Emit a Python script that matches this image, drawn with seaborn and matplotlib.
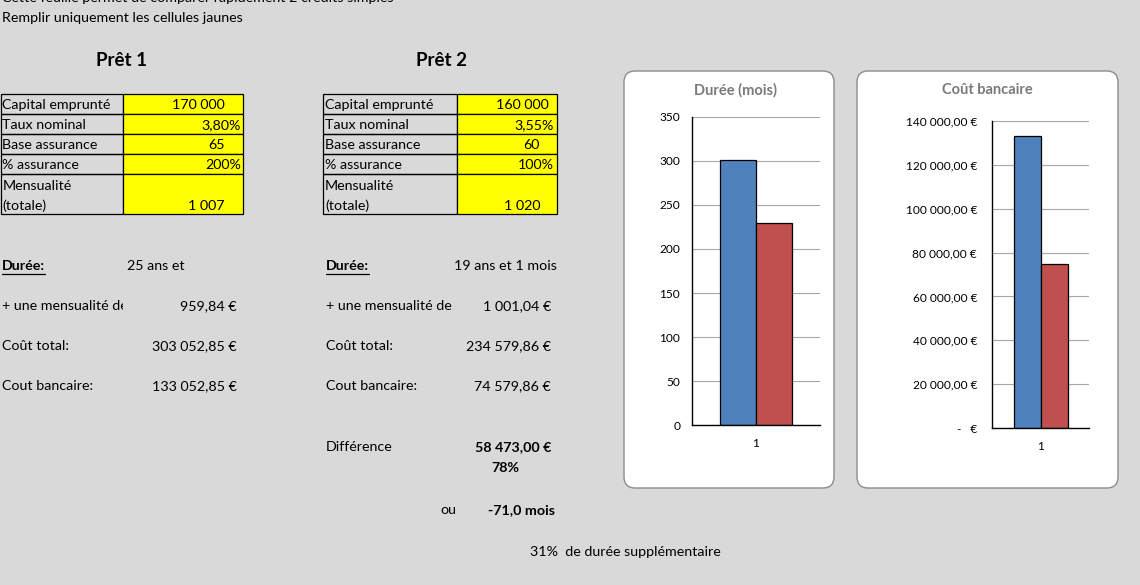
import matplotlib
matplotlib.use('Agg')
import matplotlib.pyplot as plt
import seaborn as sns
import pandas as pd
from matplotlib.patches import Rectangle, FancyBboxPatch
from matplotlib.ticker import FuncFormatter
from matplotlib.transforms import Bbox, TransformedBbox

# ---------------- data ----------------
categories = ['1']
loans = ['Prêt 1', 'Prêt 2']
duree_mois = [301, 230]
cout_bancaire = [133052.85, 74579.86]

table_labels = ['Capital emprunté', 'Taux nominal', 'Base assurance', '% assurance', 'Mensualité', '(totale)']
pret1_values = ['170 000', '3,80%', '65', '200%', '1 007']
pret2_values = ['160 000', '3,55%', '60', '100%', '1 020']

duree_text = ['25 ans et', '19 ans et 1 mois']
derniere_mensualite = ['959,84 €', '1 001,04 €']
cout_total_txt = ['303 052,85 €', '234 579,86 €']
cout_bancaire_txt = ['133 052,85 €', '74 579,86 €']
difference_txt = ['58 473,00 €', '78%']
ecart_mois_txt = '-71,0 mois'
duree_supp_txt = '31%'

# ---------------- style ----------------
sns.set_style('white')
plt.rcParams['font.family'] = ['Lato', 'DejaVu Sans']
FS = 10.3
BG = '#d9d9d9'
BLUE = '#4f81bd'
RED = '#c0504d'
YEL = '#ffff00'

W, H = 1140, 585
fig = plt.figure(figsize=(W / 100, H / 100), dpi=100, facecolor=BG)
bg = fig.add_axes([0, 0, 1, 1], zorder=0)
bg.set_xlim(0, W)
bg.set_ylim(H, 0)
bg.axis('off')
bg.set_facecolor(BG)

def txt(x, y, s, ha='left', bold=False, size=FS, color='black', **kw):
    return bg.text(x, y, s, ha=ha, va='center', fontsize=size,
                   fontweight='bold' if bold else 'normal', color=color, **kw)

# header lines
txt(2, -2, 'Cette feuille permet de comparer rapidement 2 crédits simples')
txt(2, 17.5, 'Remplir uniquement les cellules jaunes')

# tables
row_edges = [94, 114, 134, 154, 174, 214]
def draw_table(x0, xmid, x1, values, right_pos, title, title_x):
    txt(title_x, 61, title, ha='center', bold=True, size=13.5)
    for i in range(5):
        y0, y1 = row_edges[i], row_edges[i + 1]
        bg.add_patch(Rectangle((x0, y0), xmid - x0, y1 - y0, facecolor='none',
                               edgecolor='black', lw=0.9))
        bg.add_patch(Rectangle((xmid, y0), x1 - xmid, y1 - y0, facecolor=YEL,
                               edgecolor='black', lw=0.9))
    for i, lab in enumerate(table_labels[:4]):
        txt(x0 + 2, (row_edges[i] + row_edges[i + 1]) / 2 + 1, lab)
    txt(x0 + 2, 185.5, table_labels[4])
    txt(x0 + 2, 205.5, table_labels[5])
    for i, v in enumerate(values):
        yc = (row_edges[i] + row_edges[i + 1]) / 2 + 1 if i < 4 else 205.5
        txt(right_pos[i], yc, v, ha='right')

draw_table(0.5, 123, 243, pret1_values, [225, 241, 225, 241, 225], loans[0], 121)
draw_table(323, 457, 557, pret2_values, [549, 554, 540, 554, 540], loans[1], 441)

# lower block
d1 = txt(2, 266, 'Durée:', bold=True)
d2 = txt(326, 266, 'Durée:', bold=True)
txt(127, 266, duree_text[0])
txt(557, 266, duree_text[1], ha='right')

m1 = txt(2, 306, '+ une mensualité de')
m1.set_clip_box(TransformedBbox(Bbox([[0, 290], [123, 320]]), bg.transData))
m1.set_clip_on(True)
txt(326, 306, '+ une mensualité de')
txt(237, 306, derniere_mensualite[0], ha='right')
txt(551, 306, derniere_mensualite[1], ha='right')

txt(2, 346, 'Coût total:')
txt(326, 346, 'Coût total:')
txt(237, 346, cout_total_txt[0], ha='right')
txt(551, 346, cout_total_txt[1], ha='right')

txt(2, 386, 'Cout bancaire:')
txt(326, 386, 'Cout bancaire:')
txt(237, 386, cout_bancaire_txt[0], ha='right')
txt(551, 386, cout_bancaire_txt[1], ha='right')

txt(326, 447, 'Différence')
txt(551, 447, difference_txt[0], ha='right', bold=True)
txt(519, 468, difference_txt[1], ha='right', bold=True)
txt(440, 510, 'ou')
txt(555, 510, ecart_mois_txt, ha='right', bold=True)
txt(530, 552, duree_supp_txt + '  de durée supplémentaire')

# chart boxes
for (x0, x1) in [(624, 834), (857, 1118)]:
    bg.add_patch(FancyBboxPatch((x0, 71), x1 - x0, 417,
                                boxstyle='round,pad=0,rounding_size=11',
                                facecolor='white', edgecolor='#8c8c8c', lw=1))
txt(735, 90, 'Durée (mois)', ha='center', bold=True, color='#7a7a7a', size=10.5)
txt(987, 90, 'Coût bancaire', ha='center', bold=True, color='#7a7a7a', size=10.5)

# underline "Durée:"
fig.canvas.draw()
rend = fig.canvas.get_renderer()
inv = bg.transData.inverted()
for t in (d1, d2):
    bb = t.get_window_extent(rend)
    (xa, _), (xb, _) = inv.transform([[bb.x0, bb.y0], [bb.x1, bb.y1]])
    bg.plot([xa, xb], [273.5, 273.5], color='black', lw=0.9)

# ---------------- charts ----------------
df_duree = pd.DataFrame({'cat': categories * 2, 'pret': loans, 'val': duree_mois})
df_cout = pd.DataFrame({'cat': categories * 2, 'pret': loans, 'val': cout_bancaire})

def px_axes(l, r, t, b):
    return fig.add_axes([l / W, 1 - b / H, (r - l) / W, (b - t) / H], zorder=2)

def style_chart(ax, ymax, step, pad_y, fmt=None):
    ax.set_facecolor('white')
    ax.set_xlim(-0.711, 0.711)
    ax.set_ylim(0, ymax)
    ax.set_yticks(list(range(0, ymax + 1, step)))
    if fmt is not None:
        ax.yaxis.set_major_formatter(FuncFormatter(fmt))
    ax.yaxis.grid(True, color='#a6a6a6', lw=0.8)
    ax.xaxis.grid(False)
    ax.set_axisbelow(True)
    for s in ['top', 'right']:
        ax.spines[s].set_visible(False)
    for s in ['left', 'bottom']:
        ax.spines[s].set_color('black')
        ax.spines[s].set_linewidth(1)
    ax.tick_params(axis='y', length=0, labelsize=8.6, pad=pad_y, colors='black')
    ax.tick_params(axis='x', length=0, labelsize=8.6, pad=9, colors='black')
    ax.set_xlabel('')
    ax.set_ylabel('')

ax1 = px_axes(692, 820, 116.7, 425.3)
sns.barplot(data=df_duree, x='cat', y='val', hue='pret', palette=[BLUE, RED],
            saturation=1, edgecolor='black', linewidth=0.9, errorbar=None,
            legend=False, ax=ax1)
style_chart(ax1, 350, 50, 8.5)

def euro_fmt(v, pos):
    if abs(v) < 1e-9:
        return '-   €'
    return f'{v:,.2f}'.replace(',', ' ').replace('.', ',') + ' €'

ax2 = px_axes(992.3, 1089.3, 120.7, 428.3)
sns.barplot(data=df_cout, x='cat', y='val', hue='pret', palette=[BLUE, RED],
            saturation=1, edgecolor='black', linewidth=0.9, errorbar=None,
            legend=False, ax=ax2)
style_chart(ax2, 140000, 20000, 11, euro_fmt)

fig.savefig('out.png', dpi=100, facecolor=BG)
